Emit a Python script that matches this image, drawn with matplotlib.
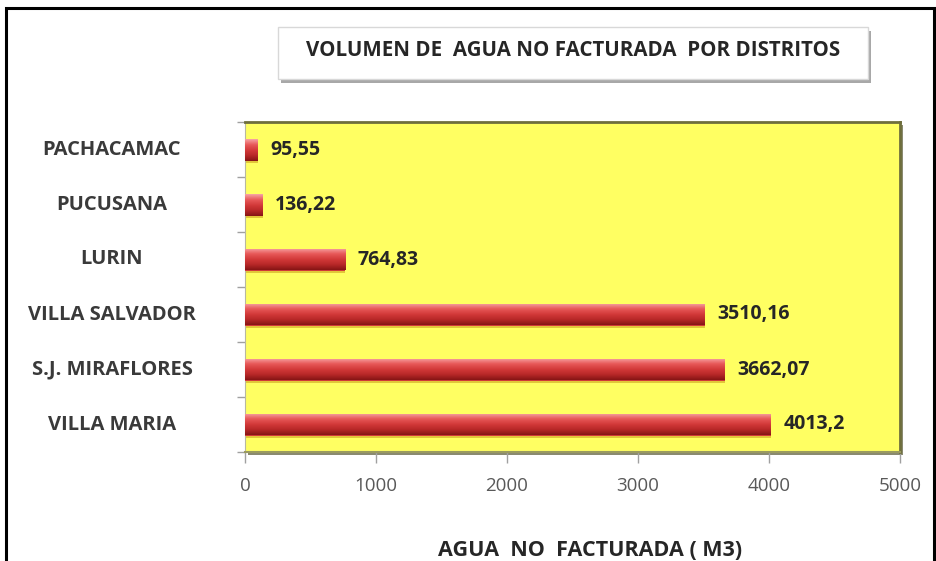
import matplotlib.pyplot as plt
import matplotlib.transforms as mtransforms
from matplotlib.colors import LinearSegmentedColormap
from matplotlib.patches import Rectangle
import numpy as np

plt.rcParams['font.family'] = ['Open Sans', 'DejaVu Sans']

# data
districts = ['PACHACAMAC', 'PUCUSANA', 'LURIN', 'VILLA SALVADOR',
             'S.J. MIRAFLORES', 'VILLA MARIA']
volumes = [95.55, 136.22, 764.83, 3510.16, 3662.07, 4013.2]
x_ticks = [0, 1000, 2000, 3000, 4000, 5000]
title = 'VOLUMEN DE  AGUA NO FACTURADA  POR DISTRITOS'
x_label = 'AGUA  NO  FACTURADA ( M3)'

W, H = 937, 561
fig = plt.figure(figsize=(W / 100, H / 100), dpi=100)


def fx(px):
    return px / W


def fy(py):
    return 1 - py / H


# outer black frame
fig.patches.append(Rectangle((fx(6), -0.05), fx(934) - fx(6), fy(8) + 0.05,
                             transform=fig.transFigure, fill=False,
                             edgecolor='black', lw=2.2, zorder=-5))

# title box with shadow
fig.patches.append(Rectangle((fx(281), fy(83)), fx(868) - fx(278), fy(27) - fy(79),
                             transform=fig.transFigure, facecolor='#a8a8a8',
                             edgecolor='none', zorder=-4))
fig.patches.append(Rectangle((fx(278), fy(79)), fx(868) - fx(278), fy(27) - fy(79),
                             transform=fig.transFigure, facecolor='white',
                             edgecolor='#d8d8d8', lw=1, zorder=-3))
fig.text(fx(573), fy(50), title, ha='center', va='center', fontsize=14.8,
         fontweight='bold', color='#262626', zorder=3)

ax_left, ax_right, ax_top, ax_bottom = 245, 900, 122, 452
# plot area shadow
fig.patches.append(Rectangle((fx(ax_left + 3), fy(ax_bottom + 3)),
                             fx(ax_right) - fx(ax_left), fy(ax_top) - fy(ax_bottom),
                             transform=fig.transFigure, facecolor='#8a8a70',
                             edgecolor='none', zorder=-2))
ax = fig.add_axes([fx(ax_left), fy(ax_bottom), fx(ax_right) - fx(ax_left),
                   fy(ax_top) - fy(ax_bottom)])
ax.set_facecolor('#ffff62')

y = np.arange(len(districts))
bars = ax.barh(y, volumes, height=0.4, color='#d03838', edgecolor='none', zorder=3)

cmap = LinearSegmentedColormap.from_list(
    'cyl', ['#f6a4a4', '#e85a5a', '#d33a3a', '#b82828', '#861515'])
grad = np.linspace(0, 1, 64).reshape(-1, 1)
for b in bars:
    x0, y0, w, h = b.get_x(), b.get_y(), b.get_width(), b.get_height()
    im = ax.imshow(grad, cmap=cmap, aspect='auto', origin='upper',
                   extent=(x0, x0 + w, y0 + h, y0), zorder=4)
    im.set_clip_path(b)
    # soft shadow under the bar
    ax.add_patch(Rectangle((x0, y0 + h), w, 0.04, facecolor='#d0a020',
                           edgecolor='none', alpha=0.6, zorder=2))

for yi, v in zip(y, volumes):
    ax.annotate(f'{v:g}'.replace('.', ','), (v, yi), xytext=(9, 0),
                textcoords='offset points', ha='left', va='center',
                fontsize=14, fontweight='bold', color='#262626', zorder=5)

ax.set_xlim(0, 5000)
ax.set_ylim(len(districts) - 0.5, -0.5)
ax.set_xticks(x_ticks)
ax.set_xticklabels([str(t) for t in x_ticks], fontsize=13.5, color='#595959')
ax.tick_params(axis='x', length=8, width=1, color='#a0a0a0', pad=10)
ax.set_yticks(y)
ax.set_yticklabels([])
ax.set_yticks(np.arange(-0.5, len(districts), 1.0), minor=True)
ax.tick_params(axis='y', which='major', length=0)
ax.tick_params(axis='y', which='minor', length=6, width=1, color='#a0a0a0')

lbl_trans = mtransforms.blended_transform_factory(fig.transFigure, ax.transData)
for yi, name in zip(y, districts):
    ax.text(fx(112), yi, name, transform=lbl_trans, ha='center', va='center',
            fontsize=14.5, fontweight='bold', color='#3a3a3a')

for side in ['top', 'right']:
    ax.spines[side].set_color('#6e6e3c')
    ax.spines[side].set_linewidth(2)
ax.spines['left'].set_color('#b8b8a0')
ax.spines['bottom'].set_color('#9a9a60')
ax.spines['bottom'].set_linewidth(1.5)

fig.text(fx(590), fy(550), x_label, ha='center', va='center', fontsize=15.5,
         fontweight='bold', color='#262626')

fig.savefig('out.png', dpi=100)
